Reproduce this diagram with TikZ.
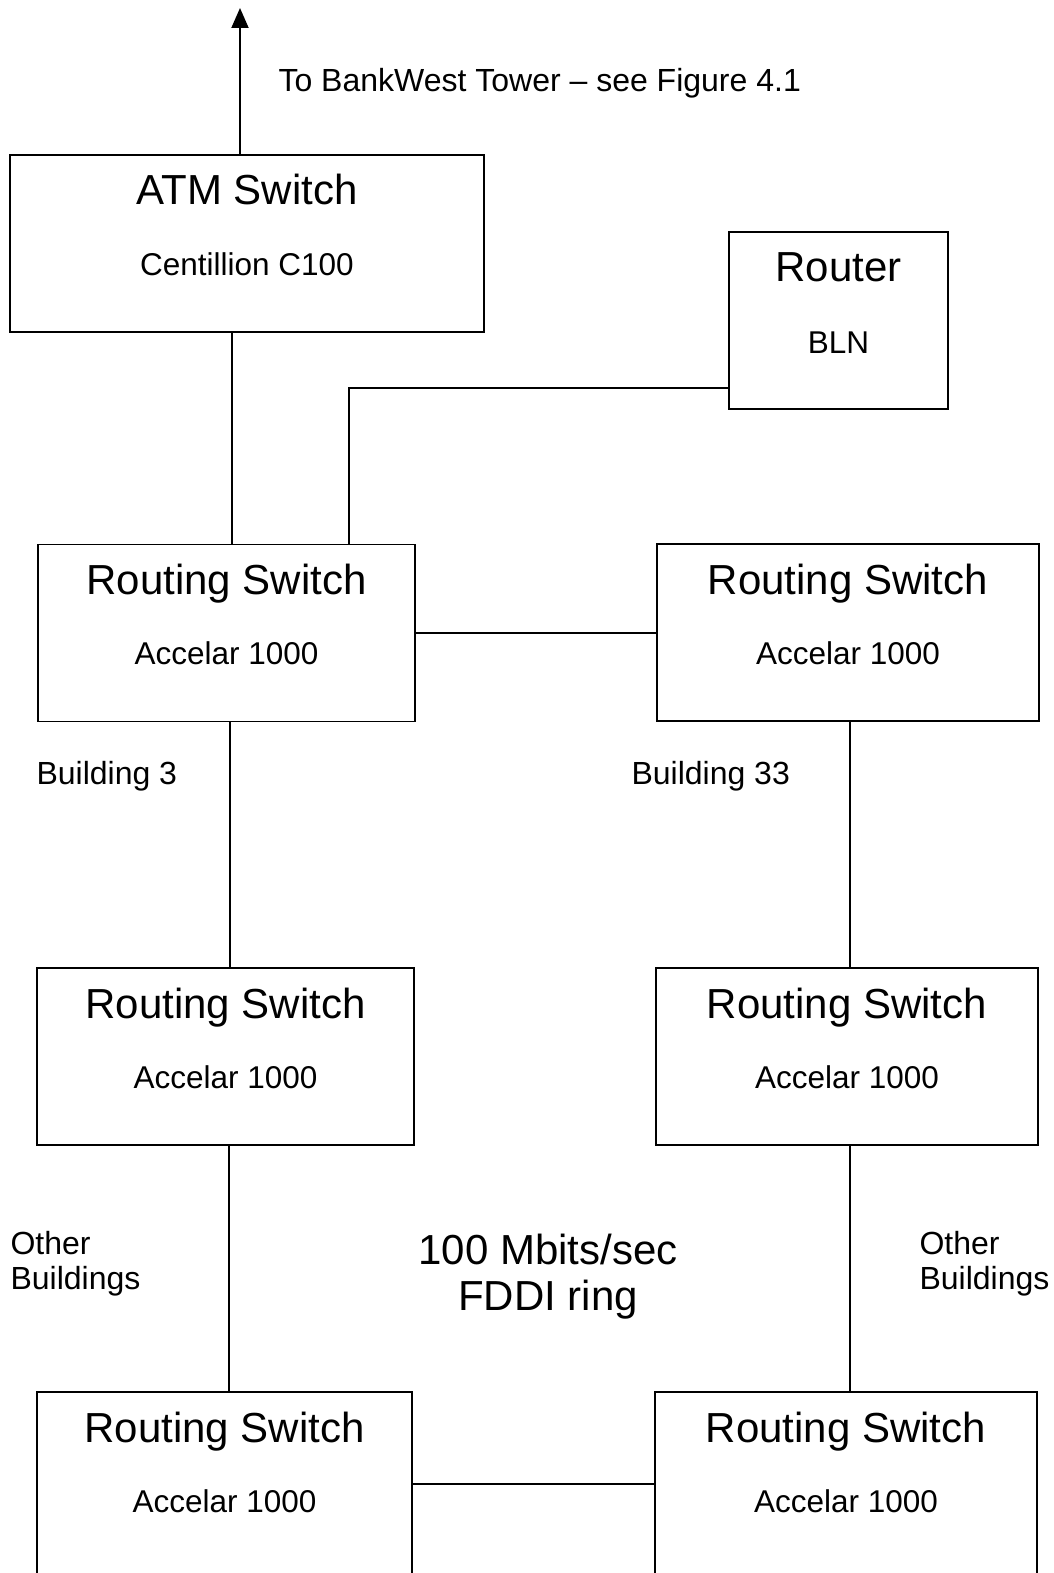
\documentclass[tikz,border=0pt]{standalone}
\usepackage{fontspec}
\setmainfont{Liberation Sans}
\usetikzlibrary{positioning, arrows.meta}

\begin{document}
\begin{tikzpicture}[
    x=1pt, y=-1pt,
    devbox/.style={
        draw,
        line width=1.9pt,
        minimum width=#1,
        minimum height=177pt,
        inner sep=0pt
    },
    devbox/.default=377pt,
    devname/.style={font=\fontsize{42}{46}\selectfont, anchor=base},
    devmodel/.style={font=\fontsize{31.5}{36}\selectfont, anchor=base},
    lbl/.style={font=\fontsize{32}{35}\selectfont, align=left},
    ringlbl/.style={font=\fontsize{42}{46}\selectfont, align=center},
    link/.style={line width=1.9pt}
]
\useasboundingbox (0,0) rectangle (1054,1573);

% === ATM switch and router ===
\node[devbox=474pt] (atm) at (247,243.5) {};
\node[devname] (atm-name) at ([yshift=-50pt]atm.north) {ATM Switch};
\node[devmodel] (atm-model) at ([yshift=-121pt]atm.north) {Centillion C100};

\node[devbox=219pt] (router) at (838.5,320.5) {};
\node[devname] (router-name) at ([yshift=-50pt]router.north) {Router};
\node[devmodel] (router-model) at ([yshift=-122pt]router.north) {BLN};

% === Routing switches ===
\node[devbox] (rs1) at (226.5,633) {};
\node[devbox=382pt] (rs2) at (848,632.5) {};
\node[devbox] (rs3) at (225.5,1056.5) {};
\node[devbox=382pt] (rs4) at (847,1056.5) {};
\node[devbox=375pt, minimum height=184pt] (rs5) at (224.5,1484) {};
\node[devbox=382pt, minimum height=184pt] (rs6) at (846,1484) {};

\foreach \n in {rs1,rs2,rs3,rs4,rs5,rs6} {
    \node[devname] (\n-name) at ([yshift=-51pt]\n.north) {Routing Switch};
    \node[devmodel] (\n-model) at ([yshift=-121pt]\n.north) {Accelar 1000};
}

% === Labels ===
\coordinate (tower) at (240,8);
\node[lbl, anchor=base west] (tower-lbl) at (275,92) {To BankWest Tower -- see Figure 4.1};
\node[lbl, anchor=base west] (bldg3) at (33,784) {Building 3};
\node[lbl, anchor=base west] (bldg33) at (628,784) {Building 33};
\node[lbl, anchor=west] (other-l) at (7,1264) {Other\\Buildings};
\node[lbl, anchor=west] (other-r) at (916,1264) {Other\\Buildings};
\node[ringlbl] (ring) at (548,1277) {100 Mbits/sec\\FDDI ring};

% === Links ===
\draw[link, -{Triangle[length=20pt,width=17pt]}] ([xshift=-7pt]atm.north) -- (tower);
\draw[link] ([xshift=-15pt]atm.south) -- ([xshift=5.5pt]rs1.north);
\draw[link] ([yshift=-67.5pt]router.west) -| ([xshift=122.5pt]rs1.north);
\draw[link] (rs1.east) -- (rs1.east -| rs2.west);
\draw[link] ([xshift=3.5pt]rs1.south) -- ([xshift=4.5pt]rs3.north);
\draw[link] ([xshift=2pt]rs2.south) -- ([xshift=3pt]rs4.north);
\draw[link] ([xshift=3.5pt]rs3.south) -- ([xshift=4.5pt]rs5.north);
\draw[link] ([xshift=3pt]rs4.south) -- ([xshift=4pt]rs6.north);
\draw[link] (rs5.east) -- (rs5.east -| rs6.west);

\end{tikzpicture}
\end{document}
